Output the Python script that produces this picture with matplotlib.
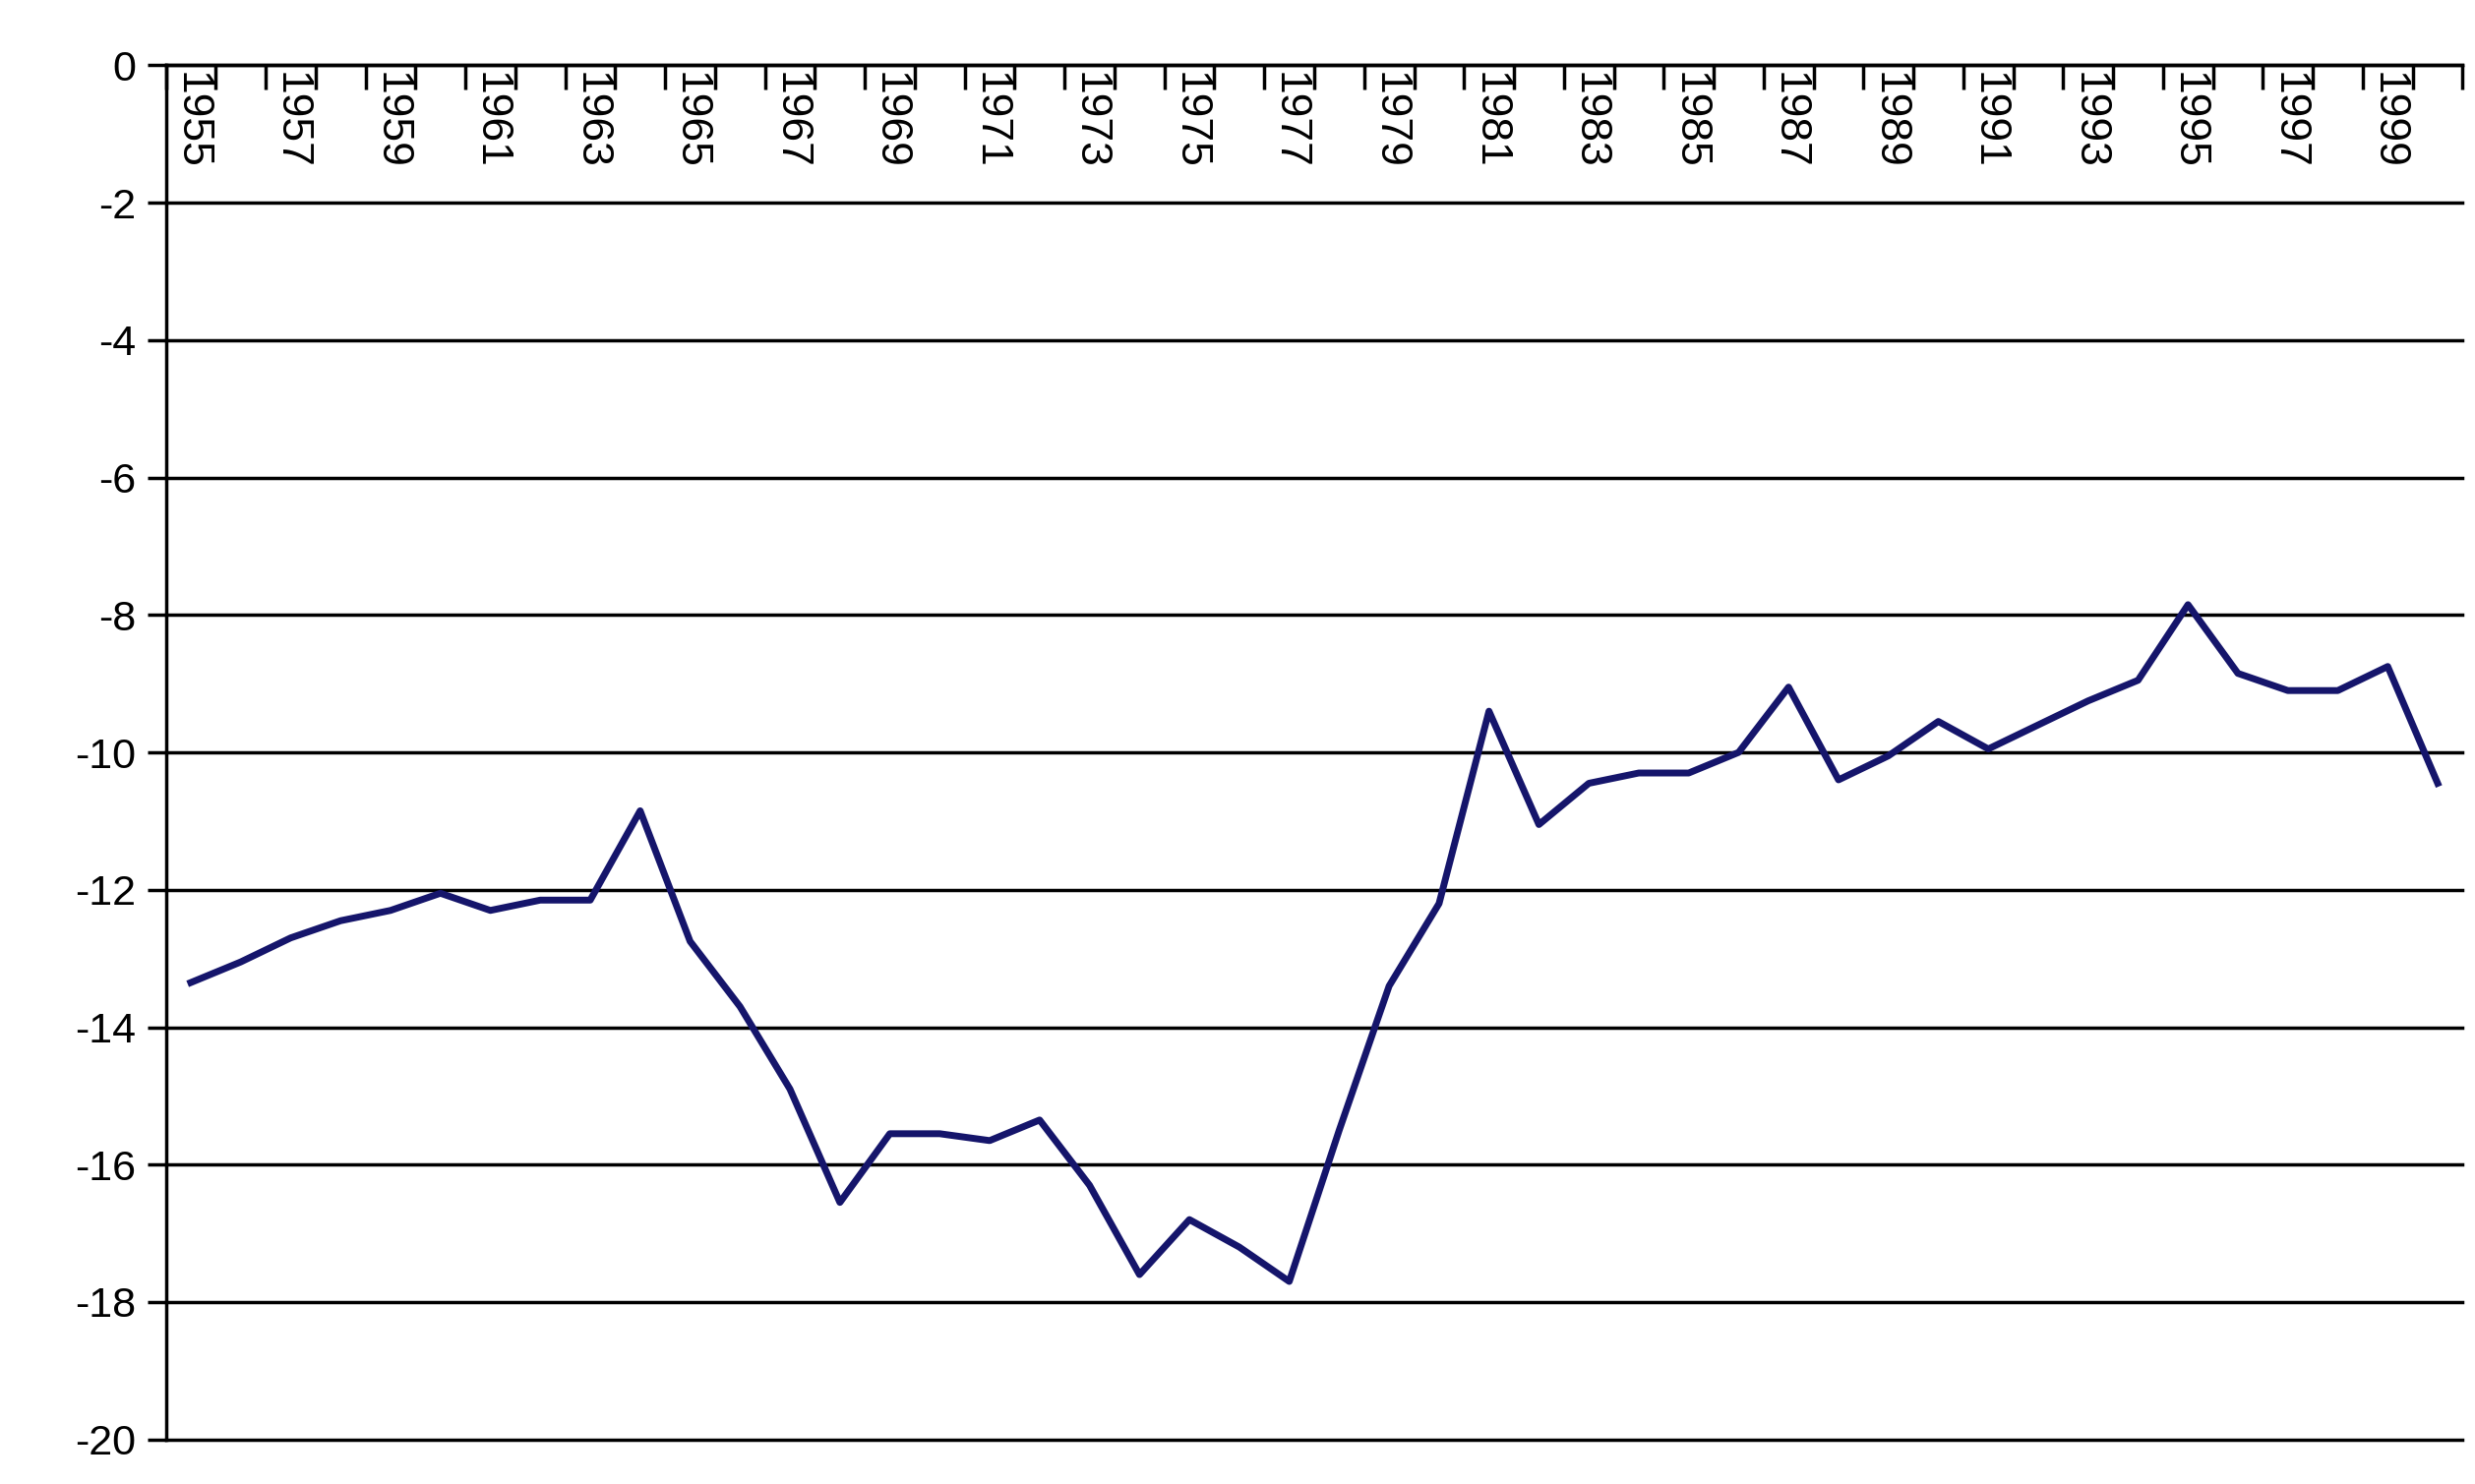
import matplotlib
matplotlib.use("Agg")
import matplotlib.pyplot as plt

years = list(range(1955, 2001))
values = [-13.35, -13.05, -12.7, -12.45, -12.3, -12.05, -12.3, -12.15, -12.15, -10.85,
          -12.75, -13.7, -14.9, -16.55, -15.55, -15.55, -15.65, -15.35, -16.3, -17.6,
          -16.8, -17.2, -17.7, -15.5, -13.4, -12.2, -9.4, -11.05, -10.45, -10.3,
          -10.3, -10.0, -9.05, -10.4, -10.05, -9.55, -9.95, -9.6, -9.25, -8.95,
          -7.85, -8.85, -9.1, -9.1, -8.75, -10.45]
label_years = [str(y) for y in range(1955, 2000, 2)]
yticks = list(range(0, -21, -2))

plt.rcParams['font.family'] = ['Liberation Sans', 'DejaVu Sans']
fig = plt.figure(figsize=(25.16, 15.09), dpi=100)
ax = fig.add_axes([0.067, 0.03, 0.928, 0.926])
x = list(range(len(years)))
ax.plot(x, values, color='#15156b', lw=5, zorder=3)
ax.set_ylim(-20, 0)
ax.set_xlim(-0.4, 45.5)
ax.set_yticks(yticks)
ax.set_yticklabels([str(t) for t in yticks], fontsize=31)
for t in yticks:
    ax.axhline(t, color='black', lw=2.5, zorder=1, clip_on=False)
ax.tick_params(axis='y', length=14, width=2.5, direction='out', pad=8)
ax.xaxis.tick_top()
ax.set_xticks([i - 0.5 for i in range(len(years) + 1)])
ax.tick_params(axis='x', length=18, width=2.5, direction='in', labeltop=False)
for s in ['right', 'bottom']:
    ax.spines[s].set_visible(False)
ax.spines['left'].set_linewidth(2.5)
ax.spines['top'].set_linewidth(2.5)
for lbl in label_years:
    i = years.index(int(lbl))
    ax.text(i, -0.1, lbl, rotation=270, ha='center', va='top', fontsize=32)
fig.savefig('out.png', dpi=100, facecolor='white')
